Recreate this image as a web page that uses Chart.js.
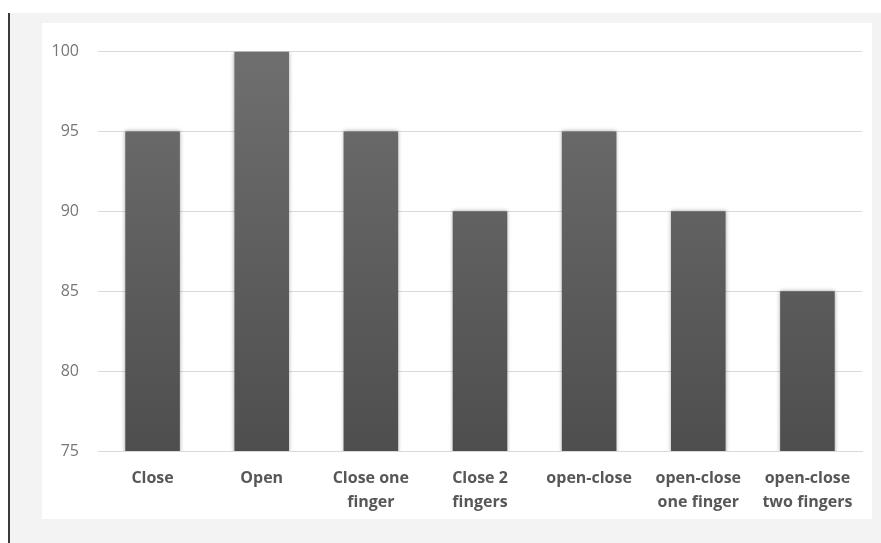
<!DOCTYPE html>
<html>
<head>
<meta charset="utf-8">
<script src="https://cdn.jsdelivr.net/npm/chart.js@4.4.1/dist/chart.umd.min.js"></script>
<style>
  html, body { margin: 0; padding: 0; background: #fff; }
  body { width: 881px; height: 543px; position: relative; overflow: hidden; }
  #edge { position: absolute; left: 8px; top: 13px; width: 2px; height: 530px; background: #3a3a3a; }
  #panel { position: absolute; left: 10px; top: 13px; width: 871px; height: 530px; background: #f3f3f3; }
  #box { position: absolute; left: 42px; top: 23px; width: 830px; height: 496px; background: #fff; }
</style>
</head>
<body>
<div id="edge"></div>
<div id="panel"></div>
<div id="box"><canvas id="chart" width="830" height="496"></canvas></div>
<script>
/* ================= DATA ================= */

const categories = [
    ["Close"],
    ["Open"],
    ["Close one", "finger"],
    ["Close 2", "fingers"],
    ["open-close"],
    ["open-close", "one finger"],
    ["open-close", "two fingers"]
];
const scores = [95, 100, 95, 90, 95, 90, 85];
const yTicks = [75, 80, 85, 90, 95, 100];

/* ================= STYLE HELPERS ================= */

function barGradient(context) {
    const chart = context.chart;
    const area = chart.chartArea;
    if (!area) return "#5e5e5e";
    const g = chart.ctx.createLinearGradient(0, area.top, 0, area.bottom);
    g.addColorStop(0, "#6f6f6f");
    g.addColorStop(1, "#4e4e4e");
    return g;
}

const barShadow = {
    id: "barShadow",
    beforeDatasetDraw(chart) {
        const ctx = chart.ctx;
        ctx.save();
        ctx.shadowColor = "rgba(0,0,0,0.35)";
        ctx.shadowBlur = 4;
        ctx.shadowOffsetX = 0;
        ctx.shadowOffsetY = 0;
    },
    afterDatasetDraw(chart) {
        chart.ctx.restore();
    }
};

/* ================= CHART ================= */

new Chart(document.getElementById("chart").getContext("2d"), {
    type: "bar",
    data: {
        labels: categories,
        datasets: [{
            data: scores,
            backgroundColor: barGradient,
            borderWidth: 0,
            categoryPercentage: 1,
            barPercentage: 0.5
        }]
    },
    plugins: [barShadow],
    options: {
        responsive: false,
        animation: false,
        layout: { padding: { top: 24, right: 10, left: 0, bottom: 0 } },
        plugins: {
            legend: { display: false },
            tooltip: { enabled: false }
        },
        scales: {
            x: {
                grid: { display: false },
                border: { color: "#d9d9d9", width: 1 },
                ticks: {
                    color: "#575757",
                    padding: 7,
                    maxRotation: 0,
                    autoSkip: false,
                    font: { family: "'Open Sans'", size: 16, weight: "bold", lineHeight: 1.5 }
                },
                afterFit(scale) { scale.height = 68; }
            },
            y: {
                min: 75,
                max: 100,
                afterBuildTicks(scale) { scale.ticks = yTicks.map(v => ({ value: v })); },
                grid: { color: "#d9d9d9", lineWidth: 1, drawTicks: false },
                border: { display: false },
                ticks: {
                    color: "#767676",
                    padding: 19,
                    font: { family: "'Open Sans'", size: 16 }
                },
                afterFit(scale) { scale.width = 56; }
            }
        }
    }
});
</script>
</body>
</html>
